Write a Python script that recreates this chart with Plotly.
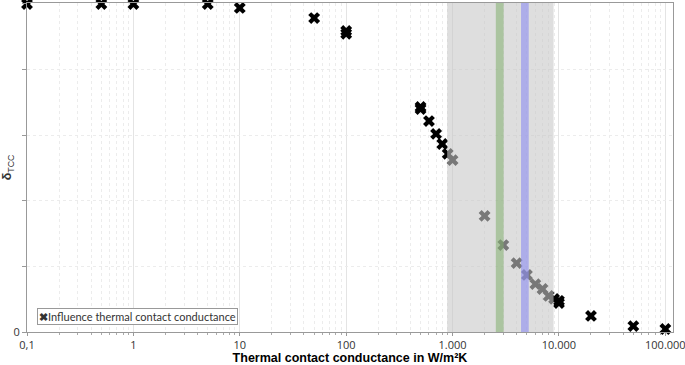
import plotly.graph_objects as go
import numpy as np

# Data
conductance = [0.1, 0.5, 1, 5, 10, 50, 100, 100, 500, 500, 600, 700, 800, 900, 1000,
               2000, 3000, 4000, 5000, 6000, 7000, 8000, 9000, 10000, 10000,
               20000, 50000, 100000]
delta_tcc = [1.0, 1.0, 1.0, 1.0, 0.988, 0.957, 0.918, 0.909, 0.686, 0.680, 0.643,
             0.604, 0.573, 0.543, 0.524, 0.354, 0.265, 0.210, 0.174, 0.146, 0.131,
             0.110, 0.101, 0.095, 0.088, 0.049, 0.018, 0.009]

major_ticks = [0.1, 1, 10, 100, 1000, 10000, 100000]
major_labels = ["0,1", "1", "10", "100", "1.000", "10.000", "100.000"]
minor_ticks = [m * d for d in [0.1, 1, 10, 100, 1000, 10000] for m in range(2, 10)]

grey_band = (890, 8900)
green_band = (2550, 3020)
blue_band = (4400, 5200)

series_name = "Influence thermal contact conductance"

fig = go.Figure()
fig.add_trace(go.Scatter(
    x=conductance, y=delta_tcc, mode="markers",
    name=series_name,
    marker=dict(symbol="x", size=10.5, color="black", line=dict(width=0)),
    cliponaxis=False, showlegend=False,
))

fig.add_shape(type="rect", xref="x", yref="paper", x0=grey_band[0], x1=grey_band[1],
              y0=0, y1=1, fillcolor="rgb(200,200,200)", opacity=0.6,
              line=dict(width=0), layer="above")
fig.add_shape(type="rect", xref="x", yref="paper", x0=green_band[0], x1=green_band[1],
              y0=0, y1=1, fillcolor="rgb(130,175,110)", opacity=0.55,
              line=dict(width=0), layer="above")
fig.add_shape(type="rect", xref="x", yref="paper", x0=blue_band[0], x1=blue_band[1],
              y0=0, y1=1, fillcolor="rgb(140,140,240)", opacity=0.6,
              line=dict(width=0), layer="above")

# legend-like box
fig.add_annotation(
    xref="paper", yref="paper", x=0.015, y=0.022, xanchor="left", yanchor="bottom",
    text="<b>✖</b>" + series_name, showarrow=False,
    font=dict(family="Lato", size=11, color="#333"),
    bordercolor="#999", borderwidth=1, borderpad=1, bgcolor="white",
)

fig.update_layout(
    width=685, height=365,
    margin=dict(l=27, r=12, t=3, b=33),
    plot_bgcolor="white", paper_bgcolor="white",
    font=dict(family="Open Sans", size=11, color="#333"),
    showlegend=False,
    xaxis=dict(
        type="log", range=[np.log10(0.1), np.log10(118000)],
        automargin=False, ticklabeloverflow="allow",
        tickmode="array", tickvals=major_ticks, ticktext=major_labels,
        showgrid=True, gridcolor="#e4e4e4", gridwidth=1,
        ticks="outside", ticklen=3, tickcolor="#999",
        showline=True, linecolor="#999", linewidth=1, mirror=True,
        zeroline=False,
        minor=dict(tickvals=minor_ticks, ticks="outside", ticklen=2,
                   tickcolor="#aaa", showgrid=True, gridcolor="#ececec",
                   griddash="dot"),
        title=dict(text="<b>Thermal contact conductance in W/m²K</b>",
                   font=dict(family="Liberation Sans", size=12.5, color="black"),
                   standoff=3),
    ),
    yaxis=dict(
        range=[0, 1.003],
        automargin=False,
        tickmode="array", tickvals=[0, 0.2, 0.4, 0.6, 0.8, 1],
        ticktext=["0", "", "", "", "", "1"],
        showgrid=True, gridcolor="#ececec", griddash="dot",
        ticks="outside", ticklen=4, tickcolor="#999",
        showline=True, linecolor="#999", linewidth=1, mirror=True,
        zeroline=False,
        title=dict(text="<b>δ</b><sub>TCC</sub>",
                   font=dict(family="Liberation Sans", size=12.5, color="#333"),
                   standoff=6),
    ),
)

fig.write_html("out.html", config={"displayModeBar": False},
               post_script="document.body.style.margin='0';document.body.style.overflow='hidden';")
